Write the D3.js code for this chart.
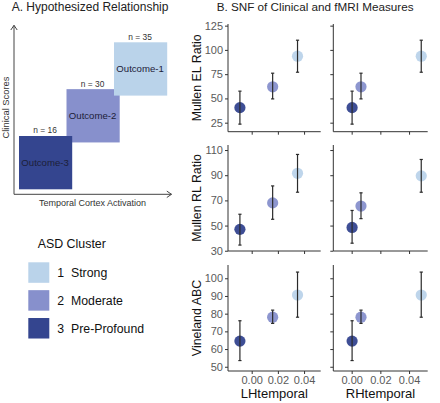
<!DOCTYPE html>
<html><head><meta charset="utf-8">
<script src="https://cdn.jsdelivr.net/npm/d3@7"></script>
<style>
html,body{margin:0;padding:0;background:#fff;}
svg{display:block;font-family:"Liberation Sans",Arial,Helvetica,sans-serif;}
</style></head>
<body>
<svg id="c" width="440" height="403"></svg>
<script>
// ---------- data ----------
const clusterIds = [1, 2, 3];
const clusterNames = ["Strong", "Moderate", "Pre-Profound"];
const clusterColors = ["#bad3ea", "#8790cc", "#34458f"];
const outcomeLabels = ["Outcome-1", "Outcome-2", "Outcome-3"];
const clusterN = [35, 30, 16];

const measures = ["Mullen EL Ratio", "Mullen RL Ratio", "Vineland ABC"];
const regions = ["LHtemporal", "RHtemporal"];
const lhX = [0.035, 0.016, -0.009];
const rhX = [0.0485, 0.0065, 0.0003];

// means / lower / upper, per cluster (1,2,3)
const elMean = [93.5, 62, 40.5], elLo = [77, 49.5, 23.5], elHi = [110, 76, 57.5];
const rlLhMean = [91.5, 68, 47], rlLhLo = [76.5, 55, 34.5], rlLhHi = [106.5, 81.5, 59];
const rlRhMean = [89.5, 65.5, 48.5], rlRhLo = [76.5, 55.5, 36], rlRhHi = [102.5, 76, 62];
const abcMean = [90.5, 78, 64.5], abcLo = [78, 74.5, 53.5], abcHi = [103.5, 82, 76];

const yTicks = [[25, 50, 75, 100, 125], [30, 50, 70, 90, 110], [50, 60, 70, 80, 90, 100]];
const yDomains = [[15.7, 126.7], [29.8, 114], [47.6, 107.5]];
const xTicks = [0.00, 0.02, 0.04];
const xDomains = [[-0.0181, 0.0527], [-0.0128, 0.0530]];

// ---------- layout ----------
const svg = d3.select("#c");
const colX = [[228, 320.7], [333.3, 427.7]];
const rowY = [[24, 131.7], [145, 251], [265, 371]];
const axisCol = "#333";
const tickTextCol = "#5a5a5a";

// Titles
svg.append("text").attr("x", 11.7).attr("y", 10.6).attr("font-size", 12).attr("fill", "#222")
  .text("A.  Hypothesized Relationship");
svg.append("text").attr("x", 216.7).attr("y", 10.6).attr("font-size", 11.7).attr("fill", "#222")
  .text("B. SNF of Clinical and fMRI Measures");

// ---------- Panel A ----------
const gA = svg.append("g");
const boxX = d3.scaleLinear().domain([2, 0]).range([19, 114]);   // rank: index 2 (cluster 3) leftmost
const boxY = d3.scaleLinear().domain([2, 0]).range([136, 42.3]);
const boxW = 53.2, boxH = 53.3;
const order = [1, 0, 2];
order.forEach(i => {
  const x = boxX(i), y = boxY(i);
  gA.append("rect").attr("x", x).attr("y", y).attr("width", boxW).attr("height", boxH)
    .attr("fill", clusterColors[i]);
  gA.append("text").attr("x", x + boxW / 2 - 0.5).attr("y", y + boxH / 2 + 3.3)
    .attr("text-anchor", "middle").attr("font-size", 9.6).attr("fill", "#1c2038")
    .text(outcomeLabels[i]);
  gA.append("text").attr("x", x + boxW / 2 - 0.5).attr("y", y - 2.6)
    .attr("text-anchor", "middle").attr("font-size", 8.4).attr("fill", "#333")
    .text("n = " + clusterN[i]);
});
// arrows
gA.append("path").attr("d", "M14,194.3 V25.3 M10.8,30 L14,25.3 L17.2,30")
  .attr("fill", "none").attr("stroke", "#444").attr("stroke-width", 1);
gA.append("path").attr("d", "M14,194.3 H171.5 M166.8,191.1 L171.5,194.3 L166.8,197.5")
  .attr("fill", "none").attr("stroke", "#444").attr("stroke-width", 1);
gA.append("text").attr("transform", "translate(8.7,107.5) rotate(-90)").attr("text-anchor", "middle")
  .attr("font-size", 9.4).attr("fill", "#333").text("Clinical Scores");
gA.append("text").attr("x", 92.5).attr("y", 205.6).attr("text-anchor", "middle")
  .attr("font-size", 9).attr("fill", "#333").text("Temporal Cortex Activation");

// ---------- Legend ----------
const gL = svg.append("g");
gL.append("text").attr("x", 37.7).attr("y", 247.7).attr("font-size", 12.4).attr("fill", "#111").text("ASD Cluster");
const legY = d3.scaleBand().domain(clusterIds).range([262.3, 340.3]).paddingInner(0.2);
clusterIds.forEach((id, i) => {
  gL.append("rect").attr("x", 28.3).attr("y", legY(id)).attr("width", 21).attr("height", 20.5)
    .attr("fill", clusterColors[i]);
  gL.append("text").attr("x", 57.3).attr("y", legY(id) + 14.8).attr("font-size", 12.3).attr("fill", "#111")
    .text(id);
  gL.append("text").attr("x", 71).attr("y", legY(id) + 14.8).attr("font-size", 12.3).attr("fill", "#111")
    .text(clusterNames[i]);
});

// ---------- Panel B ----------
const panelData = [
  [[elMean, elLo, elHi], [elMean, elLo, elHi]],
  [[rlLhMean, rlLhLo, rlLhHi], [rlRhMean, rlRhLo, rlRhHi]],
  [[abcMean, abcLo, abcHi], [abcMean, abcLo, abcHi]]
];
const xVals = [lhX, rhX];

measures.forEach((m, r) => {
  const y = d3.scaleLinear().domain(yDomains[r]).range([rowY[r][1], rowY[r][0]]);
  regions.forEach((reg, c) => {
    const x = d3.scaleLinear().domain(xDomains[c]).range(colX[c]);
    const g = svg.append("g");
    // y axis
    const ya = g.append("g").attr("transform", `translate(${colX[c][0]},0)`)
      .call(d3.axisLeft(y).tickValues(yTicks[r]).tickSize(3).tickPadding(2)
        .tickFormat(c === 0 ? d3.format("d") : () => ""));
    ya.select(".domain").attr("d", `M0,${rowY[r][0]}V${rowY[r][1]}`).attr("stroke", axisCol);
    ya.selectAll(".tick line").attr("stroke", axisCol);
    ya.selectAll(".tick text").attr("font-size", 11).attr("fill", tickTextCol).attr("font-family", "Liberation Sans, Arial, sans-serif");
    // x axis
    const xa = g.append("g").attr("transform", `translate(0,${rowY[r][1]})`)
      .call(d3.axisBottom(x).tickValues(xTicks).tickSize(3).tickPadding(2)
        .tickFormat(r === 2 ? d3.format(".2f") : () => ""));
    xa.select(".domain").attr("d", `M${colX[c][0]},0H${colX[c][1]}`).attr("stroke", axisCol);
    xa.selectAll(".tick line").attr("stroke", axisCol);
    xa.selectAll(".tick text").attr("font-size", 11).attr("fill", tickTextCol).attr("font-family", "Liberation Sans, Arial, sans-serif");

    const [mean, lo, hi] = panelData[r][c];
    const pts = clusterIds.map((id, i) => ({ i, x: xVals[c][i], m: mean[i], lo: lo[i], hi: hi[i] }));
    // points (draw 1 first, so darker overlap)
    g.selectAll("circle").data(pts).join("circle")
      .attr("cx", d => x(d.x)).attr("cy", d => y(d.m)).attr("r", 5.6)
      .attr("fill", d => clusterColors[d.i]).attr("fill-opacity", 0.95);
    // error bars
    const eb = g.selectAll("g.eb").data(pts).join("g").attr("class", "eb")
      .attr("stroke", "#2a2a2a").attr("stroke-width", 1.2).attr("fill", "none");
    eb.append("line").attr("x1", d => x(d.x)).attr("x2", d => x(d.x))
      .attr("y1", d => y(d.lo)).attr("y2", d => y(d.hi));
    eb.append("line").attr("x1", d => x(d.x) - 1.6).attr("x2", d => x(d.x) + 1.6)
      .attr("y1", d => y(d.lo)).attr("y2", d => y(d.lo));
    eb.append("line").attr("x1", d => x(d.x) - 1.6).attr("x2", d => x(d.x) + 1.6)
      .attr("y1", d => y(d.hi)).attr("y2", d => y(d.hi));
  });
  // row y title
  const cy = (rowY[r][0] + rowY[r][1]) / 2;
  svg.append("text").attr("transform", `translate(200.5,${cy}) rotate(-90)`).attr("text-anchor", "middle")
    .attr("font-size", 12.4).attr("fill", "#111").text(m);
});
// x titles
regions.forEach((reg, c) => {
  svg.append("text").attr("x", (colX[c][0] + colX[c][1]) / 2).attr("y", 398)
    .attr("text-anchor", "middle").attr("font-size", 13).attr("fill", "#111").text(reg);
});
</script>
</body></html>
